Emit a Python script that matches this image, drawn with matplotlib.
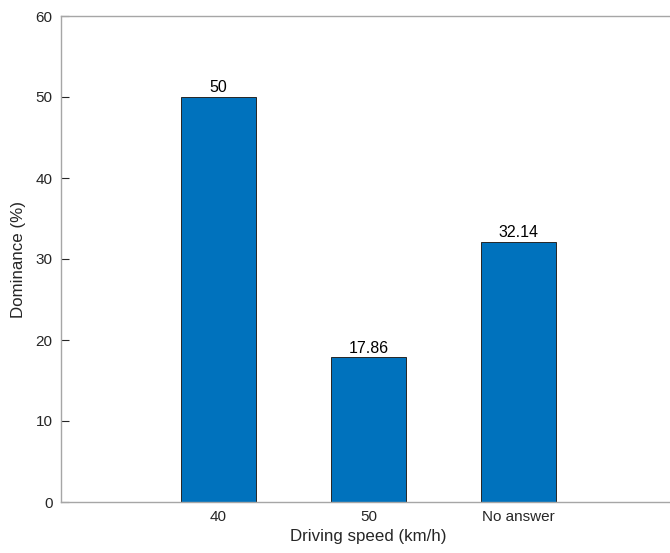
import matplotlib
matplotlib.use("Agg")
import matplotlib.pyplot as plt

categories = ["40", "50", "No answer"]
values = [50, 17.86, 32.14]
value_labels = ["50", "17.86", "32.14"]
y_ticks = [0, 10, 20, 30, 40, 50, 60]

plt.rcParams["font.family"] = ["Liberation Sans", "DejaVu Sans"]

fig = plt.figure(figsize=(6.70, 5.53), dpi=100)
W, H = 670, 553
left, right, top, bottom = 61, 676, 16, 502
ax = fig.add_axes([left / W, 1 - bottom / H, (right - left) / W, (bottom - top) / H])

x = list(range(len(categories)))
ax.bar(x, values, width=0.5, color="#0072BD", edgecolor="#262626", linewidth=0.7, zorder=2)
for xi, lab, v in zip(x, value_labels, values):
    ax.text(xi, v + 0.2, lab, ha="center", va="bottom", fontsize=11.5, color="black")

ax.set_xlim(-1.05, 3.05)
ax.set_ylim(0, 60)
ax.set_xticks(x)
ax.set_xticklabels(categories)
ax.set_yticks(y_ticks)

spine_color = "#a6a6a6"
for s in ["left", "top", "bottom"]:
    ax.spines[s].set_color(spine_color)
    ax.spines[s].set_linewidth(1.0)
ax.spines["right"].set_visible(False)
ax.tick_params(direction="in", length=6, width=0.8, color="#262626", labelcolor="#262626",
               labelsize=11, top=False, right=False, pad=6)

ax.set_xlabel("Driving speed (km/h)", fontsize=12.2, color="#262626", labelpad=3)
ax.set_ylabel("Dominance (%)", fontsize=12.2, color="#262626", labelpad=7)

fig.savefig("out.png", dpi=100)
